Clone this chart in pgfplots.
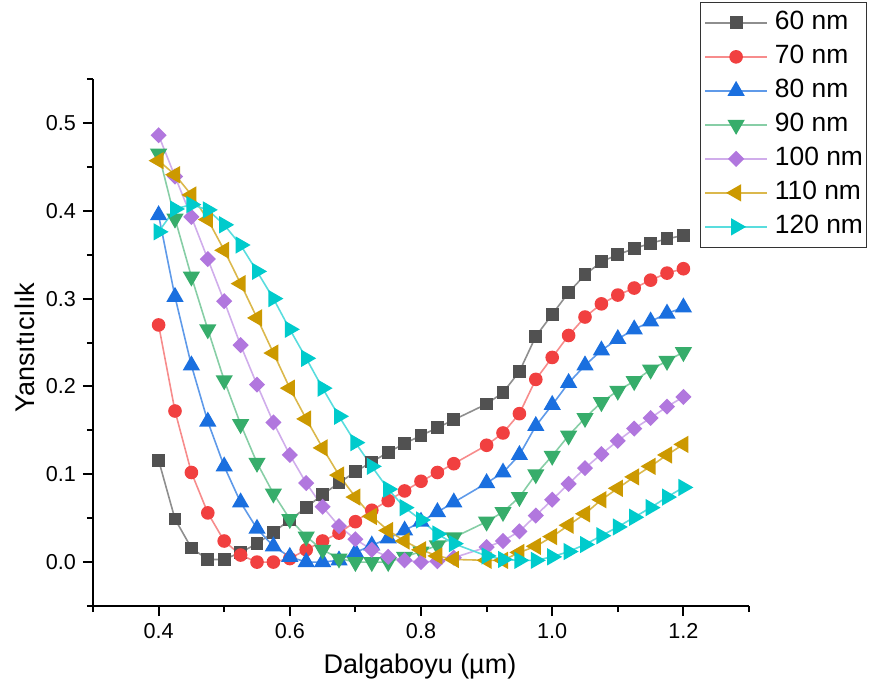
\documentclass[border=0pt]{standalone}
\usepackage{fontspec}
\setmainfont{Liberation Sans}
\usepackage{pgfplots}
\pgfplotsset{compat=1.18}
\usepackage{pgfplotstable}

\definecolor{cA}{HTML}{515151}
\definecolor{cB}{HTML}{F14040}
\definecolor{cC}{HTML}{1A6FDF}
\definecolor{cD}{HTML}{37AD6B}
\definecolor{cE}{HTML}{B177DE}
\definecolor{cF}{HTML}{CC9900}
\definecolor{cG}{HTML}{00CBCC}

\pgfplotstableread{
x     a     b     c     d     e     f     g
0.400 0.116 0.270 0.395 0.465 0.486 0.457 0.376
0.425 0.049 0.172 0.302 0.391 0.439 0.441 0.402
0.450 0.016 0.102 0.224 0.325 0.393 0.418 0.407
0.475 0.003 0.056 0.160 0.265 0.345 0.390 0.401
0.500 0.003 0.024 0.109 0.207 0.297 0.355 0.384
0.525 0.011 0.008 0.068 0.157 0.247 0.317 0.361
0.550 0.021 0.000 0.038 0.113 0.202 0.278 0.331
0.575 0.034 0.000 0.018 0.078 0.159 0.238 0.300
0.600 0.048 0.004 0.006 0.049 0.122 0.198 0.265
0.625 0.062 0.014 0.000 0.029 0.090 0.163 0.232
0.650 0.077 0.024 0.000 0.014 0.063 0.130 0.198
0.675 0.090 0.033 0.002 0.004 0.041 0.099 0.166
0.700 0.103 0.046 0.011 0.000 0.026 0.074 0.136
0.725 0.114 0.059 0.019 0.000 0.014 0.052 0.109
0.750 0.125 0.070 0.027 0.000 0.006 0.036 0.083
0.775 0.135 0.081 0.036 0.006 0.002 0.024 0.062
0.800 0.144 0.092 0.046 0.012 0.000 0.014 0.048
0.825 0.153 0.102 0.057 0.019 0.001 0.007 0.032
0.850 0.162 0.112 0.068 0.028 0.005 0.003 0.021
0.900 0.180 0.133 0.090 0.046 0.017 0.002 0.007
0.925 0.193 0.147 0.102 0.057 0.024 0.002 0.003
0.950 0.217 0.169 0.122 0.074 0.035 0.011 0.002
0.975 0.257 0.208 0.155 0.100 0.053 0.018 0.002
1.000 0.282 0.233 0.179 0.121 0.071 0.029 0.006
1.025 0.307 0.258 0.204 0.144 0.089 0.042 0.012
1.050 0.327 0.279 0.224 0.164 0.107 0.055 0.020
1.075 0.342 0.294 0.241 0.182 0.123 0.071 0.030
1.100 0.350 0.304 0.254 0.195 0.138 0.084 0.040
1.125 0.357 0.312 0.265 0.206 0.152 0.097 0.051
1.150 0.363 0.321 0.274 0.219 0.164 0.109 0.062
1.175 0.368 0.329 0.283 0.229 0.177 0.122 0.074
1.200 0.372 0.334 0.290 0.239 0.188 0.134 0.085
}\data

\begin{document}
\begin{tikzpicture}
\path[use as bounding box] (-46.5pt,-45pt) rectangle (388.5pt,303pt);
\begin{axis}[
  at={(0pt,0pt)}, anchor=south west,
  scale only axis, width=328pt, height=263.5pt,
  xmin=0.3, xmax=1.3, ymin=-0.05, ymax=0.55,
  axis x line*=bottom, axis y line*=left,
  axis line style={line width=1pt, black},
  xtick={0.4,0.6,0.8,1.0,1.2},
  minor xtick={0.3,0.5,0.7,0.9,1.1,1.3},
  ytick={0,0.1,0.2,0.3,0.4,0.5},
  minor ytick={-0.05,0.05,0.15,0.25,0.35,0.45,0.55},
  tick align=outside,
  major tick length=5pt, minor tick length=3pt,
  every tick/.style={line width=1pt, black},
  /pgf/number format/assume math mode=true,
  xticklabel style={/pgf/number format/.cd, fixed, fixed zerofill, precision=1},
  yticklabel style={/pgf/number format/.cd, fixed, fixed zerofill, precision=1},
  ticklabel style={font=\fontsize{10.8}{12}\selectfont},
  xlabel={Dalgaboyu (µm)},
  ylabel={Yansıtıcılık},
  label style={font=\fontsize{13.5}{16}\selectfont},
  xlabel style={at={(axis description cs:0.4985,-0.1157)}, anchor=center},
  ylabel style={at={(axis description cs:-0.1037,0.49)}, anchor=center},
  clip=false,
  legend style={at={(axis description cs:0.925,1.146)}, anchor=north west,
    draw=black!80, line width=0.5pt, fill=white,
    font=\fontsize{13.2}{15}\selectfont,
    inner xsep=2pt, inner ysep=4.2pt,
    row sep=5.1pt, column sep=3.5pt,
    nodes={inner sep=0pt, text height=9.4pt, text depth=2.5pt},
    cells={anchor=west}},
  legend image code/.code={\draw[mark repeat=2,mark phase=2,#1] plot coordinates {(0pt,0pt) (15.5pt,0pt) (31pt,0pt)};},
]
\addplot[color=cA!65!white, line width=0.8pt, mark=square*, mark size=2.8pt, mark options={solid, fill=cA, draw=cA}] table[x=x,y=a]{\data};
\addlegendentry{60 nm}
\addplot[color=cB!60!white, line width=0.8pt, mark=*, mark size=3pt, mark options={solid, fill=cB, draw=cB}] table[x=x,y=b]{\data};
\addlegendentry{70 nm}
\addplot[color=cC!70!white, line width=0.8pt, mark=triangle*, mark size=4.2pt, mark options={solid, fill=cC, draw=cC}] table[x=x,y=c]{\data};
\addlegendentry{80 nm}
\addplot[color=cD!60!white, line width=0.8pt, mark=triangle*, mark size=4.2pt, mark options={solid, rotate=180, fill=cD, draw=cD}] table[x=x,y=d]{\data};
\addlegendentry{90 nm}
\addplot[color=cE!60!white, line width=0.8pt, mark=square*, mark size=2.45pt, mark options={solid, rotate=45, fill=cE, draw=cE}] table[x=x,y=e]{\data};
\addlegendentry{100 nm}
\addplot[color=cF!70!white, line width=0.8pt, mark=triangle*, mark size=4.2pt, mark options={solid, rotate=90, fill=cF, draw=cF}] table[x=x,y=f]{\data};
\addlegendentry{110 nm}
\addplot[color=cG!65!white, line width=0.8pt, mark=triangle*, mark size=4.2pt, mark options={solid, rotate=-90, fill=cG, draw=cG}] table[x=x,y=g]{\data};
\addlegendentry{120 nm}
\end{axis}
\end{tikzpicture}
\end{document}
